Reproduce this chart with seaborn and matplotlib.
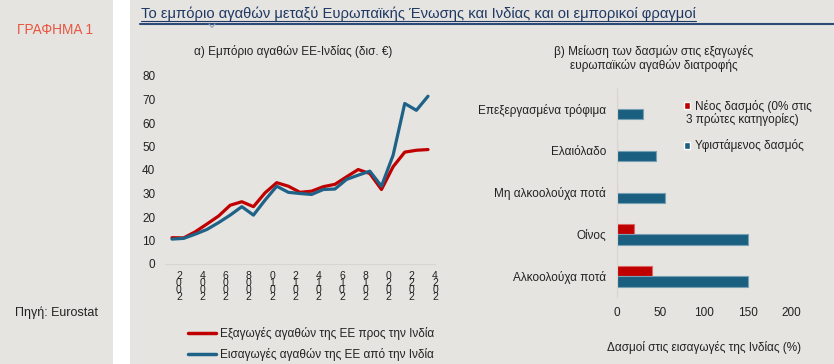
import numpy as np
import pandas as pd
import matplotlib
matplotlib.use("Agg")
import matplotlib.pyplot as plt
import matplotlib.transforms as mtransforms
from matplotlib.patches import Rectangle
from matplotlib.lines import Line2D
import seaborn as sns

# ---------------- data ----------------
years = list(range(2002, 2025))
exports_eu_to_india = [11.2, 11.1, 13.7, 17.0, 20.4, 25.0, 26.5, 24.4, 30.3, 34.6, 33.1, 30.5,
                       31.0, 32.9, 33.9, 37.1, 40.2, 38.5, 31.7, 41.4, 47.6, 48.4, 48.7]
imports_eu_from_india = [10.6, 10.9, 12.7, 14.7, 17.6, 20.8, 24.4, 20.8, 27.2, 33.1, 30.5, 30.0,
                         29.6, 31.7, 31.9, 36.0, 37.8, 39.5, 33.1, 46.3, 68.3, 65.4, 71.4]
line_series = ["Εξαγωγές αγαθών της ΕΕ προς την Ινδία", "Εισαγωγές αγαθών της ΕΕ από την Ινδία"]
year_ticks = list(range(2002, 2025, 2))
y_ticks_left = [0, 10, 20, 30, 40, 50, 60, 70, 80]

categories = ["Επεξεργασμένα τρόφιμα", "Ελαιόλαδο", "Μη αλκοολούχα ποτά", "Οίνος", "Αλκοολούχα ποτά"]
new_tariff = [0, 0, 0, 20, 40]
existing_tariff = [30, 45, 55, 150, 150]
bar_series = ["Νέος δασμός (0% στις 3 πρώτες κατηγορίες)", "Υφιστάμενος δασμός"]
x_ticks_right = [0, 50, 100, 150, 200]

# ---------------- style ----------------
sns.set_theme(style="white")
plt.rcParams["font.family"] = ["Liberation Sans", "DejaVu Sans"]
BG = "#e5e4e0"
RED = "#c00000"
BLUE = "#1f6288"
BARBLUE = "#1a5f80"
TXT = "#222222"

W, H = 834, 364
fig = plt.figure(figsize=(W / 100, H / 100), dpi=100, facecolor=BG)

def fx(px):
    return px / W

def fy(py):
    return 1 - py / H

# white separator strip
fig.patches.append(Rectangle((fx(113), 0), fx(130) - fx(113), 1, transform=fig.transFigure,
                             facecolor="white", edgecolor="none", zorder=0))

# header
fig.text(fx(17), fy(30), "ΓΡΑΦΗΜΑ 1", color="#e8553f", fontsize=9.8, va="center", ha="left")
fig.text(fx(141), fy(14), "Το εμπόριο αγαθών μεταξύ Ευρωπαϊκής Ένωσης και Ινδίας και οι εμπορικοί φραγμοί",
         color="#1f3864", fontsize=10.6, va="center", ha="left")
fig.add_artist(Line2D([fx(141), fx(696)], [fy(21), fy(21)], transform=fig.transFigure,
                      color="#1f3864", lw=0.8))
fig.add_artist(Line2D([fx(140), fx(834)], [fy(23.5), fy(23.5)], transform=fig.transFigure,
                      color="#2c4a7a", lw=1.5))
fig.add_artist(Line2D([fx(209), fx(212), fx(215)], [fy(24), fy(27.5), fy(24)], transform=fig.transFigure,
                      color="#8da0bd", lw=0.8))
fig.text(fx(15), fy(313), "Πηγή: Eurostat", color=TXT, fontsize=9, va="center", ha="left")

# ---------------- left: line chart ----------------
ax1 = fig.add_axes([fx(165), fy(264), fx(435) - fx(165), fy(76) - fy(264)])
ax1.set_facecolor(BG)
df_line = pd.DataFrame({
    "year": years * 2,
    "value": exports_eu_to_india + imports_eu_from_india,
    "series": [line_series[0]] * len(years) + [line_series[1]] * len(years),
})
sns.lineplot(data=df_line, x="year", y="value", hue="series", hue_order=line_series,
             palette=[RED, BLUE], linewidth=2.3, ax=ax1, legend=False)
ax1.set_xlim(2001.4, 2024.6)
ax1.set_ylim(0, 80)
ax1.set_yticks(y_ticks_left)
ax1.set_xticks(year_ticks)
# stacked digits (as in the original, last digit on top)
ax1.set_xticklabels(["\n".join(reversed(str(y))) for y in year_ticks], rotation=0,
                    fontsize=7.5, color=TXT, linespacing=0.64)
ax1.tick_params(axis="x", length=0, pad=5)
ax1.tick_params(axis="y", length=0, pad=7, labelsize=8.5, labelcolor=TXT)
ax1.set_xlabel("")
ax1.set_ylabel("")
for s in ["top", "right", "left"]:
    ax1.spines[s].set_visible(False)
ax1.spines["bottom"].set_color("#d6d5d1")
ax1.spines["bottom"].set_linewidth(0.8)
fig.text(fx(293), fy(52), "α) Εμπόριο αγαθών ΕΕ-Ινδίας (δισ. €)", fontsize=8.5, color=TXT,
         ha="center", va="center")

handles = [Line2D([], [], color=RED, lw=2.5), Line2D([], [], color=BLUE, lw=2.5)]
fig.legend(handles, line_series, loc="center left", bbox_to_anchor=(fx(182), fy(344)),
           frameon=False, fontsize=8.5, handlelength=2.4, handletextpad=0.3, labelspacing=0.7,
           borderpad=0, labelcolor=TXT)

# ---------------- right: bar chart ----------------
ax2 = fig.add_axes([fx(617), fy(297), fx(791) - fx(617), fy(88) - fy(297)])
ax2.set_facecolor(BG)
df_bar = pd.DataFrame({
    "category": categories * 2,
    "value": new_tariff + existing_tariff,
    "series": [bar_series[0]] * len(categories) + [bar_series[1]] * len(categories),
})
sns.barplot(data=df_bar, y="category", x="value", hue="series", hue_order=bar_series,
            order=categories, palette=[RED, BARBLUE], orient="h", width=0.5, gap=0,
            saturation=1, ax=ax2, legend=False, errorbar=None)
for p in ax2.patches:
    fc = p.get_facecolor()
    p.set_edgecolor(tuple(min(1, c * 0.6 + 0.4) for c in fc[:3]))
    p.set_linewidth(0.8)
ax2.set_xlim(0, 200)
ax2.set_ylim(4.5, -0.5)
ax2.set_xticks(x_ticks_right)
ax2.tick_params(axis="x", length=0, pad=7, labelsize=8.5, labelcolor=TXT)
ax2.tick_params(axis="y", length=0, pad=8, labelsize=8.5, labelcolor=TXT)
ax2.set_ylabel("")
ax2.set_xlabel("Δασμοί στις εισαγωγές της Ινδίας (%)", fontsize=8.5, color=TXT, labelpad=16)
for s in ["top", "right", "bottom"]:
    ax2.spines[s].set_visible(False)
ax2.spines["left"].set_color("#d6d5d1")
ax2.spines["left"].set_linewidth(0.8)
fig.text(fx(654), fy(52), "β) Μείωση των δασμών στις εξαγωγές", fontsize=8.5, color=TXT,
         ha="center", va="center")
fig.text(fx(654), fy(65), "ευρωπαϊκών αγαθών διατροφής", fontsize=8.5, color=TXT,
         ha="center", va="center")

# legend: first label split over two lines with the marker beside the first line
first_words = bar_series[0].split(" ")
line_a = " ".join(first_words[:4])
line_b = " ".join(first_words[4:])
bh = [Rectangle((0, 0), 1, 1, facecolor=RED), Rectangle((0, 0), 1, 1, facecolor=BARBLUE)]
fig.legend(bh, [line_a, bar_series[1]], loc="upper left", bbox_to_anchor=(fx(678), fy(94)),
           frameon=False, fontsize=8.5, handlelength=0.55, handleheight=0.55,
           handletextpad=0.35, labelspacing=2.25, borderpad=0, labelcolor=TXT)
fig.text(fx(686), fy(120), line_b, fontsize=8.5, color=TXT, ha="left", va="center")

# shift the year labels slightly to the right, as in the original
fig.canvas.draw()
offset = mtransforms.ScaledTranslation(7 / 100, 0, fig.dpi_scale_trans)
for t in ax1.xaxis.get_major_ticks():
    t.label1.set_transform(t.label1.get_transform() + offset)

fig.savefig("out.png", dpi=100, facecolor=BG)
